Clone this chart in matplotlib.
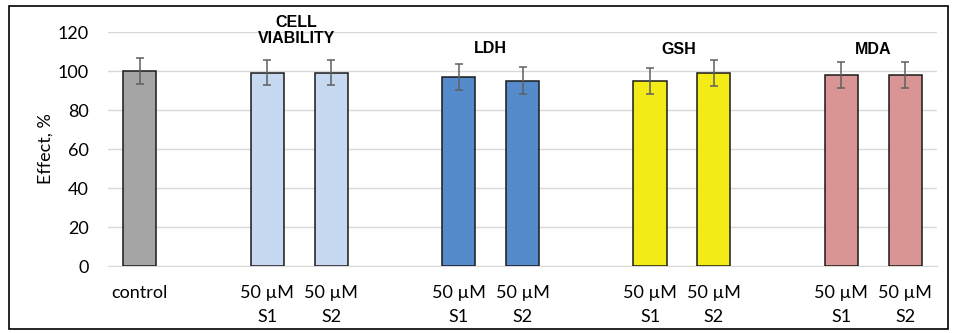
import matplotlib.pyplot as plt
from matplotlib.patches import Rectangle

# categories in order, blank slots separate the groups
labels = ["control", "", "50 µM\nS1", "50 µM\nS2", "", "50 µM\nS1", "50 µM\nS2",
          "", "50 µM\nS1", "50 µM\nS2", "", "50 µM\nS1", "50 µM\nS2"]
values = [100, None, 99, 99, None, 97, 95, None, 95, 99, None, 98, 98]
errors = [6.5, None, 6.4, 6.4, None, 6.7, 6.8, None, 6.6, 6.7, None, 6.5, 6.5]
colors = ["#A5A5A5", None, "#C6D9F0", "#C6D9F0", None, "#558ACB", "#558ACB",
          None, "#F2EB15", "#F2EB15", None, "#D99594", "#D99594"]

groupNames = ["CELL\nVIABILITY", "LDH", "GSH", "MDA"]
groupPos = [2.45, 5.5, 8.45, 11.5]
groupY = [120.6, 111.5, 111.2, 111.2]

plt.rcParams['font.family'] = ['Lato', 'DejaVu Sans']

fig = plt.figure(figsize=(9.54, 3.33), dpi=100)
ax = fig.add_axes([0.1132, 0.2012, 0.8690, 0.7027])

for i in range(len(labels)):
    if values[i] is None:
        continue
    ax.bar(i, values[i], width=0.52, color=colors[i], edgecolor="#1a1a1a",
           linewidth=1.1, zorder=3)
    ax.errorbar(i, values[i], yerr=errors[i], ecolor="#5f5f5f", elinewidth=1.1,
                capsize=3, capthick=1.1, fmt="none", zorder=4)

for name, x, y in zip(groupNames, groupPos, groupY):
    ax.text(x, y, name, ha="center", va="center", fontsize=11.5, fontweight="bold",
            family="Liberation Sans", linespacing=1.1, clip_on=False)

ax.set_xlim(-0.5, 12.5)
ax.set_ylim(0, 120)
ax.set_yticks(range(0, 121, 20))
ax.set_xticks(range(len(labels)))
ax.set_xticklabels(labels, fontsize=13, linespacing=1.6)
ax.tick_params(axis="both", length=0, labelsize=13, colors="#000000")
ax.tick_params(axis="x", pad=14)
ax.tick_params(axis="y", pad=14)
ax.grid(axis="y", color="#d9d9d9", linewidth=1, zorder=0)
for s in ["top", "right", "left"]:
    ax.spines[s].set_visible(False)
ax.spines["bottom"].set_color("#d9d9d9")
ax.set_ylabel("Effect, %", fontsize=13, labelpad=3)

fig.patches.append(Rectangle((9 / 954, 4 / 333), 939 / 954, 323 / 333,
                             transform=fig.transFigure, fill=False,
                             edgecolor="#000000", linewidth=1.2))

plt.savefig("out.png", dpi=100)
